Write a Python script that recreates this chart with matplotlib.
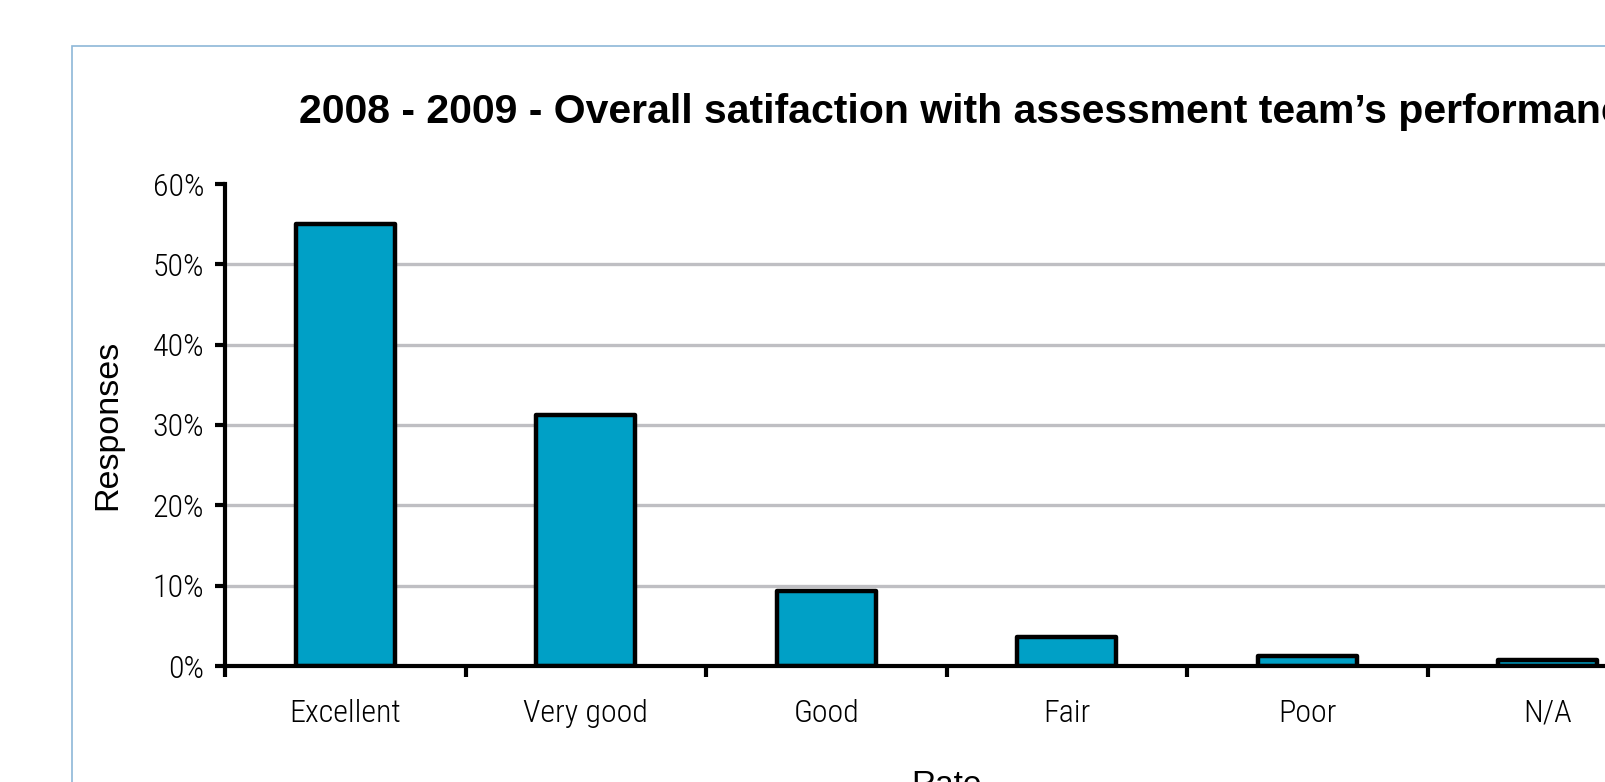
import matplotlib
matplotlib.use('Agg')
import matplotlib.pyplot as plt
from matplotlib.patches import Rectangle
from matplotlib import font_manager as fm
import numpy as np

categories = ['Excellent', 'Very good', 'Good', 'Fair', 'Poor', 'N/A']
responses = [55.0, 31.3, 9.3, 3.6, 1.2, 0.7]
yticks = [0, 10, 20, 30, 40, 50, 60]
title = '2008 - 2009 - Overall satifaction with assessment team\u2019s performance'

W, H = 1606, 782

# pick a narrow face for the tick labels if one is installed
fonts = fm.fontManager.ttflist
names = {f.name for f in fonts}
narrow, stretch = ['Liberation Sans', 'DejaVu Sans'], 'normal'
for cand in ['Liberation Sans Narrow', 'Arial Narrow', 'Roboto Condensed',
             'Open Sans Condensed', 'Noto Sans Condensed']:
    if cand in names:
        narrow = [cand, 'DejaVu Sans']
        break
else:
    for f in fonts:
        if f.stretch in ('condensed', 'semi-condensed') and 'Sans' in f.name:
            narrow, stretch = [f.name, 'DejaVu Sans'], f.stretch
            break
regular = ['Liberation Sans', 'DejaVu Sans']
tick_font = dict(family=narrow, fontstretch=stretch, fontweight='light',
                 fontsize=23)

fig = plt.figure(figsize=(W / 100, H / 100), dpi=100)
fig.patch.set_facecolor('white')

# light blue chart border, runs off the right and bottom edges
fig.patches.append(Rectangle((72.5 / W, -0.1), 1.2, (H - 46) / H + 0.1,
                             transform=fig.transFigure, fill=False,
                             edgecolor='#8DB8D8', linewidth=1.2))

# plot area extends past the right edge of the picture
ax = fig.add_axes([225 / W, (H - 666) / H, (1668 - 225) / W, (666 - 184) / H])
x = np.arange(len(categories))
ax.bar(x, responses, width=0.41, color='#00A0C6', edgecolor='black',
       linewidth=3.2, joinstyle='round', zorder=2)

for v in yticks[1:-1]:
    ax.axhline(v, color='#BFBFC3', linewidth=2.4, zorder=1)

ax.set_xlim(-0.5, len(categories) - 0.5)
ax.set_ylim(0, 60)
for s in ['top', 'right']:
    ax.spines[s].set_visible(False)
for s in ['left', 'bottom']:
    ax.spines[s].set_linewidth(3)
    ax.spines[s].set_zorder(3)

ax.set_yticks(yticks)
ax.set_yticklabels([f'{v}%' for v in yticks], **tick_font)
ax.tick_params(axis='y', length=7, width=3, pad=8)

ax.set_xticks(np.arange(len(categories) + 1) - 0.5)
ax.set_xticklabels([])
ax.tick_params(axis='x', which='major', length=8, width=3)
ax.set_xticks(x, minor=True)
ax.set_xticklabels(categories, minor=True, **tick_font)
ax.tick_params(axis='x', which='minor', length=0, pad=23.5)

ax.set_ylabel('Responses', family=regular, fontsize=24.5, labelpad=21)

fig.text(299 / W, (H - 112) / H, title, family=regular, fontweight='bold',
         fontsize=29.5, ha='left', va='center')
fig.text(946 / W, (H - 794) / H, 'Rate', family=regular, fontsize=24,
         ha='center', va='baseline')

plt.savefig('out.png', dpi=100)
